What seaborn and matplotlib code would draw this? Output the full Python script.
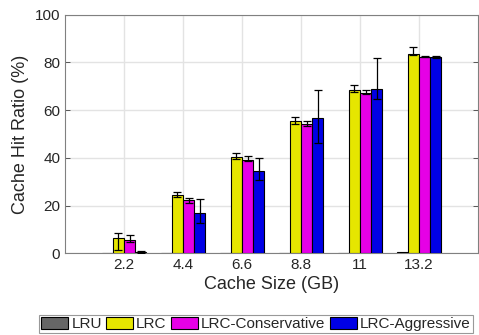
import matplotlib
matplotlib.use("Agg")
import matplotlib.pyplot as plt
import seaborn as sns
import pandas as pd
import numpy as np

categories = ["2.2", "4.4", "6.6", "8.8", "11", "13.2"]
series = ["LRU", "LRC", "LRC-Conservative", "LRC-Aggressive"]
lru = [0.1, 0.1, 0.1, 0.1, 0.3, 0.4]
lrc = [6.3, 24.4, 40.2, 55.3, 68.6, 83.4]
lrc_cons = [5.6, 22.2, 39.1, 54.1, 67.3, 82.4]
lrc_aggr = [0.6, 16.9, 34.5, 56.7, 68.9, 82.2]
# lower / upper error extents
err_lrc_lo = [4.9, 0.9, 0.8, 1.1, 1.0, 0.5]
err_lrc_hi = [2.3, 1.2, 2.0, 2.0, 1.7, 3.2]
err_cons_lo = [1.0, 1.1, 0.5, 0.7, 0.4, 0.1]
err_cons_hi = [2.1, 1.1, 1.6, 1.2, 1.3, 0.1]
err_aggr_lo = [0.4, 4.1, 3.8, 10.6, 4.3, 0.4]
err_aggr_hi = [0.4, 5.9, 5.5, 11.8, 13.0, 0.4]
colors = ["#666666", "#e6e600", "#e600e6", "#0000e6"]

values = [lru, lrc, lrc_cons, lrc_aggr]
errors = [None, (err_lrc_lo, err_lrc_hi), (err_cons_lo, err_cons_hi), (err_aggr_lo, err_aggr_hi)]

df = pd.DataFrame({
    "Cache Size (GB)": categories * len(series),
    "Cache Hit Ratio (%)": [v for vals in values for v in vals],
    "Policy": [s for s in series for _ in categories],
})

sns.set_theme(style="white")
plt.rcParams['font.family'] = ['Liberation Sans', 'DejaVu Sans']

fig = plt.figure(figsize=(4.79, 3.35), dpi=100)
ax = fig.add_axes([65/479, 1-253.3/335, 413/479, (253.3-14.6)/335])

sns.barplot(data=df, x="Cache Size (GB)", y="Cache Hit Ratio (%)", hue="Policy",
            palette=colors, saturation=1, width=0.75, gap=0, edgecolor="black",
            linewidth=0.8, errorbar=None, ax=ax, legend=True, zorder=3)

for cont, errs, vals in zip(ax.containers, errors, values):
    if errs is None:
        continue
    xs = [p.get_x() + p.get_width()/2 for p in cont.patches]
    ax.errorbar(xs, vals, yerr=[errs[0], errs[1]], fmt="none", ecolor="black",
                elinewidth=0.9, capsize=3.0, capthick=0.9, zorder=4)

ax.set_xlim(-1, 6)
ax.set_ylim(0, 100)
ax.set_yticks([0, 20, 40, 60, 80, 100])
ax.grid(True, color="#e3e3e3", linewidth=1.0, zorder=0)
ax.set_axisbelow(True)
for sp in ax.spines.values():
    sp.set_visible(True)
    sp.set_color("#808080")
    sp.set_linewidth(0.8)
ax.tick_params(axis="both", direction="in", length=3.5, width=0.6, color="#404040",
               labelsize=11, labelcolor="#262626", top=False, right=True, bottom=True, left=True)
ax.set_xlabel("Cache Size (GB)", fontsize=13, color="#262626", labelpad=3)
ax.set_ylabel("Cache Hit Ratio (%)", fontsize=13, color="#262626", labelpad=4)

handles, labels = ax.get_legend_handles_labels()
ax.get_legend().remove()
leg = fig.legend(handles, labels, loc="lower center", bbox_to_anchor=(256/479, 0.0),
                 ncol=4, frameon=True, fancybox=False, fontsize=11,
                 handlelength=1.75, handleheight=0.85, handletextpad=0.2,
                 columnspacing=0.3, borderpad=0.15, borderaxespad=0.1)
leg.get_frame().set_edgecolor("#808080")
leg.get_frame().set_linewidth(0.8)

fig.savefig("out.png", dpi=100)
